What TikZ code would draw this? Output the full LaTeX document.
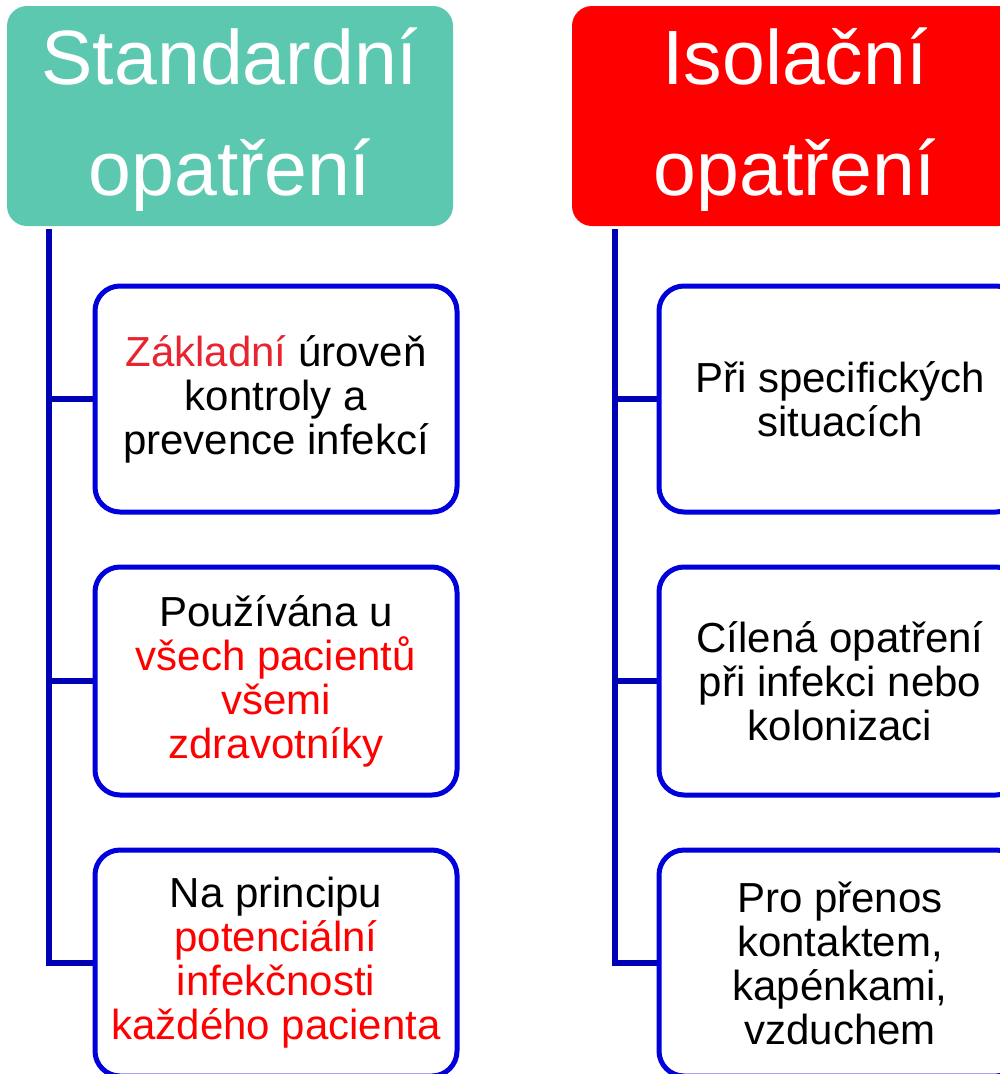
\documentclass[tikz,border=0pt]{standalone}
\usepackage{fontspec}
\setmainfont{Liberation Sans}
\usetikzlibrary{calc}
\definecolor{tealhead}{RGB}{92,200,176}
\definecolor{connblue}{RGB}{0,0,180}
\definecolor{boxblue}{RGB}{0,0,220}
\definecolor{hired}{RGB}{255,0,0}
\definecolor{zred}{RGB}{232,36,48}
\begin{document}
\begin{tikzpicture}[x=1pt,y=-1pt,
  header/.style={rounded corners=20pt, minimum width=446pt, minimum height=220pt,
    inner sep=0pt},
  headtext/.style={inner sep=0pt, text=white, align=center, font=\fontsize{77}{111}\selectfont},
  itembox/.style={draw=boxblue, line width=5pt, rounded corners=25pt, fill=white,
    minimum width=362pt, minimum height=226pt, inner sep=0pt, align=center,
    font=\fontsize{42}{44}\selectfont},
  conn/.style={draw=connblue, line width=5.5pt}]
\useasboundingbox (0,0) rectangle (1000,1074);

% headers
\node[header, fill=tealhead] (hl) at (230,116) {};
\node[header, fill=hired] (hr) at (795,116) {};
\node[headtext] (hlt) at ($(hl.center)+(0,4)$) {Standardní\\opatření};
\node[headtext] (hrt) at ($(hr.center)+(0,4)$) {Isolační\\opatření};

% trunk tops
\coordinate (tl) at ($(hl.south west)+(42,3)$);
\coordinate (tr) at ($(hr.south west)+(43,3)$);

% box positions
\path (276,399) coordinate (pl1) (276,681) coordinate (pl2) (276,963) coordinate (pl3)
      (840,399) coordinate (pr1) (840,681) coordinate (pr2) (840,963) coordinate (pr3);

% connectors
\draw[conn] (tl) |- (pl3 -| 95.5,0);
\draw[conn] (pl1 -| tl) -- (pl1 -| 95.5,0);
\draw[conn] (pl2 -| tl) -- (pl2 -| 95.5,0);
\draw[conn] (tr) |- (pr3 -| 659.5,0);
\draw[conn] (pr1 -| tr) -- (pr1 -| 659.5,0);
\draw[conn] (pr2 -| tr) -- (pr2 -| 659.5,0);

% left boxes
\node[itembox] (l1) at (pl1) {\textcolor{zred}{Základní} úroveň\\kontroly a\\prevence infekcí};
\node[itembox, minimum height=228pt] (l2) at (pl2) {Používána u\\\textcolor{hired}{všech pacientů}\\\textcolor{hired}{všemi}\\\textcolor{hired}{zdravotníky}};
\node[itembox] (l3) at (pl3) {Na principu\\\textcolor{hired}{potenciální}\\\textcolor{hired}{infekčnosti}\\\textcolor{hired}{každého pacienta}};

% right boxes
\node[itembox] (r1) at (pr1) {Při specifických\\situacích};
\node[itembox, minimum height=228pt] (r2) at (pr2) {Cílená opatření\\při infekci nebo\\kolonizaci};
\node[itembox] (r3) at (pr3) {Pro přenos\\kontaktem,\\kapénkami,\\vzduchem};
\end{tikzpicture}
\end{document}
